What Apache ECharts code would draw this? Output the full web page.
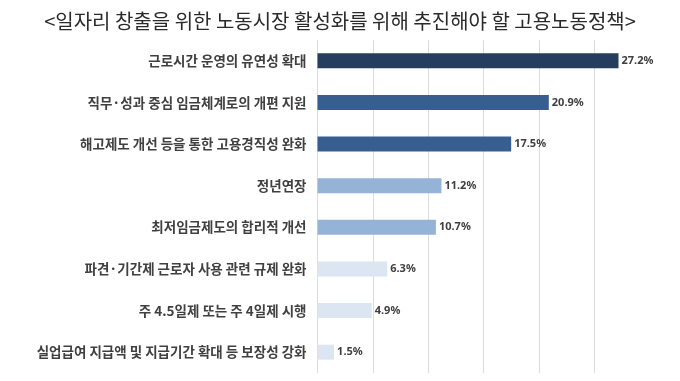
<!DOCTYPE html>
<html>
<head>
<meta charset="utf-8">
<script src="https://cdn.jsdelivr.net/npm/echarts@6/dist/echarts.min.js"></script>
<style>html,body{margin:0;padding:0;background:#fff;}#c{width:680px;height:381px;}</style>
</head>
<body>
<div id="c"></div>
<script>
const titleText = '<일자리 창출을 위한 노동시장 활성화를 위해 추진해야 할 고용노동정책>';
const categories = [
  '근로시간 운영의 유연성 확대',
  '직무·성과 중심 임금체계로의 개편 지원',
  '해고제도 개선 등을 통한 고용경직성 완화',
  '정년연장',
  '최저임금제도의 합리적 개선',
  '파견·기간제 근로자 사용 관련 규제 완화',
  '주 4.5일제 또는 주 4일제 시행',
  '실업급여 지급액 및 지급기간 확대 등 보장성 강화'
];
const values = [27.2, 20.9, 17.5, 11.2, 10.7, 6.3, 4.9, 1.5];
const barColors = ['#253E5F', '#375E8F', '#375E8F', '#95B3D7', '#95B3D7', '#DCE6F2', '#DCE6F2', '#DCE6F2'];

const chart = echarts.init(document.getElementById('c'), null, {renderer: 'canvas'});
chart.setOption({
  animation: false,
  backgroundColor: '#ffffff',
  title: {
    text: titleText,
    left: 'center',
    top: 6,
    textStyle: {fontFamily: 'Noto Sans CJK KR', fontSize: 20, fontWeight: 'normal', color: '#2a2a2a'}
  },
  grid: {left: 317.5, right: 30.5, top: 40, bottom: 8, containLabel: false},
  xAxis: {
    type: 'value', min: 0, max: 30, interval: 5,
    axisLabel: {show: false}, axisLine: {show: false}, axisTick: {show: false},
    splitLine: {show: true, showMaxLine: false, lineStyle: {color: '#dcdcdc', width: 1}}
  },
  yAxis: {
    type: 'category', data: categories, inverse: true,
    axisLine: {show: false}, axisTick: {show: false},
    axisLabel: {margin: 11, fontFamily: 'Noto Sans CJK KR', fontSize: 13.5, fontWeight: 'bold', color: '#404040'}
  },
  series: [{
    type: 'bar',
    data: values.map((v, i) => ({value: v, itemStyle: {color: barColors[i]}})),
    barWidth: 15,
    label: {
      show: true, position: 'right', distance: 3,
      formatter: p => p.value.toFixed(1) + '%',
      fontFamily: 'Noto Sans', fontSize: 11, fontWeight: 'bold', color: '#404040'
    }
  }]
});
</script>
</body>
</html>
